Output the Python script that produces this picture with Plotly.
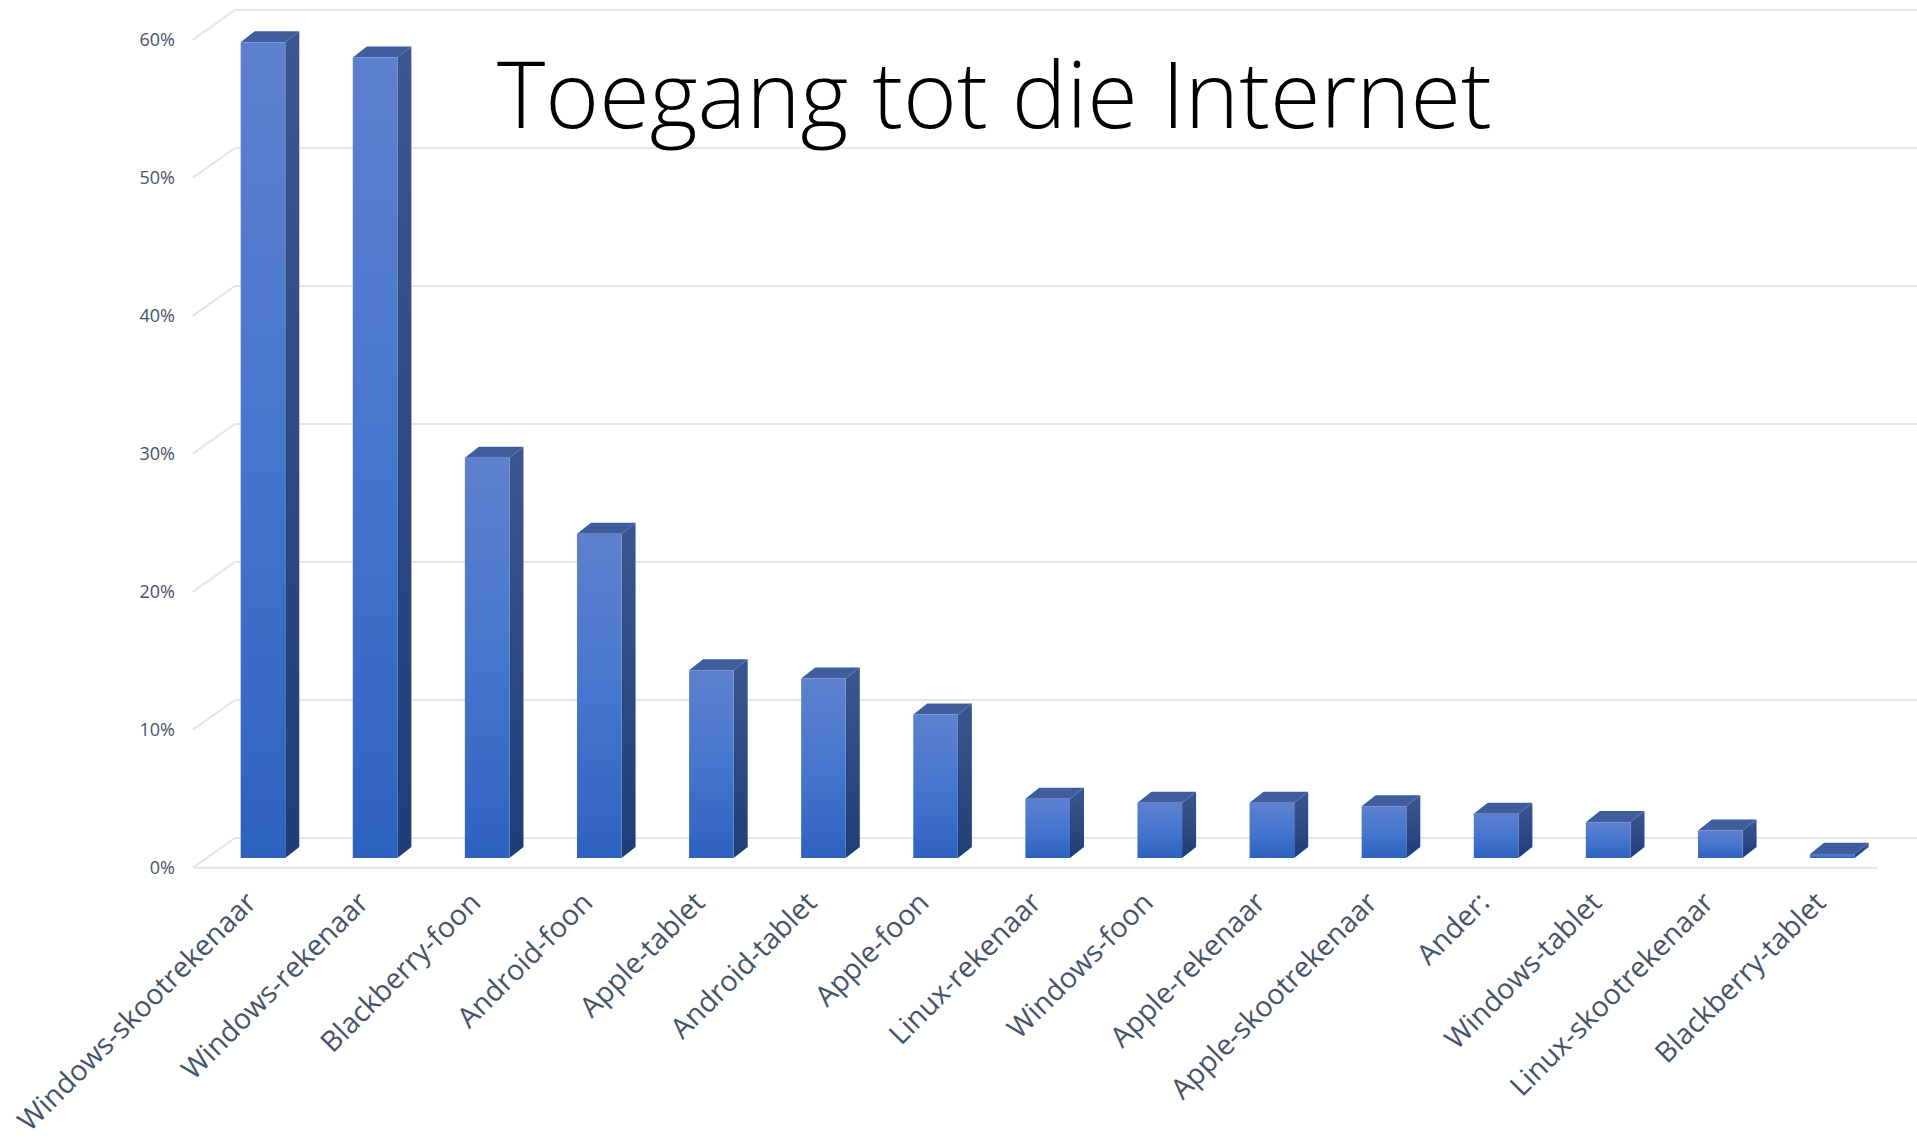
import plotly.graph_objects as go

categories = ["Windows-skootrekenaar", "Windows-rekenaar", "Blackberry-foon", "Android-foon",
              "Apple-tablet", "Android-tablet", "Apple-foon", "Linux-rekenaar", "Windows-foon",
              "Apple-rekenaar", "Apple-skootrekenaar", "Ander:", "Windows-tablet",
              "Linux-skootrekenaar", "Blackberry-tablet"]
values = [59.1, 58.0, 29.0, 23.5, 13.6, 13.0, 10.4, 4.3, 4.0, 4.0, 3.75, 3.2, 2.6, 2.0, 0.3]
y_ticks = [0, 10, 20, 30, 40, 50, 60]
y_tick_labels = ["0%", "10%", "20%", "30%", "40%", "50%", "60%"]
title_text = "Toegang tot die Internet"

# 3D-look geometry (axis units)
W = 1917; H = 1141
L = 190; R = 0; T = 0; B = 266
xr = [-0.651, 14.755]
yr = [-2.68, 60.72]
half_w = 0.199      # half bar width (category units)
dxd = 0.125         # bar depth shift in x
dyd = 0.80          # bar depth shift in y (%)
bar_base = -1.45    # bar front plane below back wall
floor_front = -2.15
wall_x0 = -0.2498
side_x0 = -0.6244
floor_x1 = 14.398

GRID = "#E6E6E6"
TXT = "#44546A"

fig = go.Figure()

# back wall gridlines and side wall lines
gx, gy = [], []
for v in y_ticks:
    gx += [side_x0, wall_x0, xr[1], None]
    gy += [v + floor_front, v, v, None]
fig.add_trace(go.Scatter(x=gx, y=gy, mode="lines", line=dict(color=GRID, width=2),
                         hoverinfo="skip", showlegend=False))
# floor front edge
fig.add_trace(go.Scatter(x=[side_x0, floor_x1], y=[floor_front, floor_front], mode="lines",
                         line=dict(color=GRID, width=2), hoverinfo="skip", showlegend=False))

for i, v in enumerate(values):
    b = bar_base
    t = v + bar_base
    xl, xrt = i - half_w, i + half_w
    # side face
    fig.add_trace(go.Scatter(
        x=[xrt, xrt + dxd, xrt + dxd, xrt, xrt], y=[b, b + dyd, t + dyd, t, b],
        fill="toself", mode="lines", line=dict(width=0),
        fillgradient=dict(type="vertical", colorscale=[[0, "#1F3D78"], [1, "#3B5792"]]),
        hoverinfo="skip", showlegend=False))
    # top face
    fig.add_trace(go.Scatter(
        x=[xl, xrt, xrt + dxd, xl + dxd, xl], y=[t, t, t + dyd, t + dyd, t],
        fill="toself", mode="lines", line=dict(width=0), fillcolor="#405D9D",
        hoverinfo="skip", showlegend=False))
    # front face
    fig.add_trace(go.Scatter(
        x=[xl, xrt, xrt, xl, xl], y=[b, b, t, t, b],
        fill="toself", mode="lines", line=dict(width=0),
        fillgradient=dict(type="vertical", colorscale=[[0, "#2E62C0"], [0.5, "#4676CE"], [1, "#5D80CE"]]),
        name=categories[i], text=f"{categories[i]}: {v}%", hoverinfo="text", showlegend=False))

# invisible trace to activate the label axis
fig.add_trace(go.Scatter(x=[0], y=[0], yaxis="y2", mode="markers", marker=dict(opacity=0),
                         hoverinfo="skip", showlegend=False))

fig.add_annotation(text=title_text, x=6.525, y=54.0, xref="x", yref="y",
                   xanchor="center", yanchor="middle", showarrow=False,
                   font=dict(family="Open Sans", size=92, color="#000000", weight=300))

fig.update_layout(
    width=W, height=H,
    margin=dict(l=L, r=R, t=T, b=B, autoexpand=False),
    paper_bgcolor="white", plot_bgcolor="white",
    xaxis=dict(range=xr, showgrid=False, zeroline=False, showline=False, automargin=False,
               tickmode="array", tickvals=list(range(len(categories))), ticktext=categories,
               tickangle=-45, tickfont=dict(family="Open Sans", size=28.5, color=TXT),
               ticks="", ticklabelstandoff=4, ticklabelshift=-15),
    yaxis=dict(range=yr, showgrid=False, zeroline=False, showline=False, showticklabels=False,
               automargin=False),
    yaxis2=dict(range=[yr[0] - floor_front, yr[1] - floor_front], overlaying="y", side="left",
                showgrid=False, zeroline=False, showline=False, automargin=False,
                tickmode="array", tickvals=y_ticks, ticktext=y_tick_labels,
                tickfont=dict(family="Open Sans", size=18, color=TXT), ticks="",
                ticklabelstandoff=14),
    showlegend=False,
)

fig.write_html("out.html", config={"displayModeBar": False},
               post_script="document.body.style.margin='0px';document.body.style.overflow='hidden';")
